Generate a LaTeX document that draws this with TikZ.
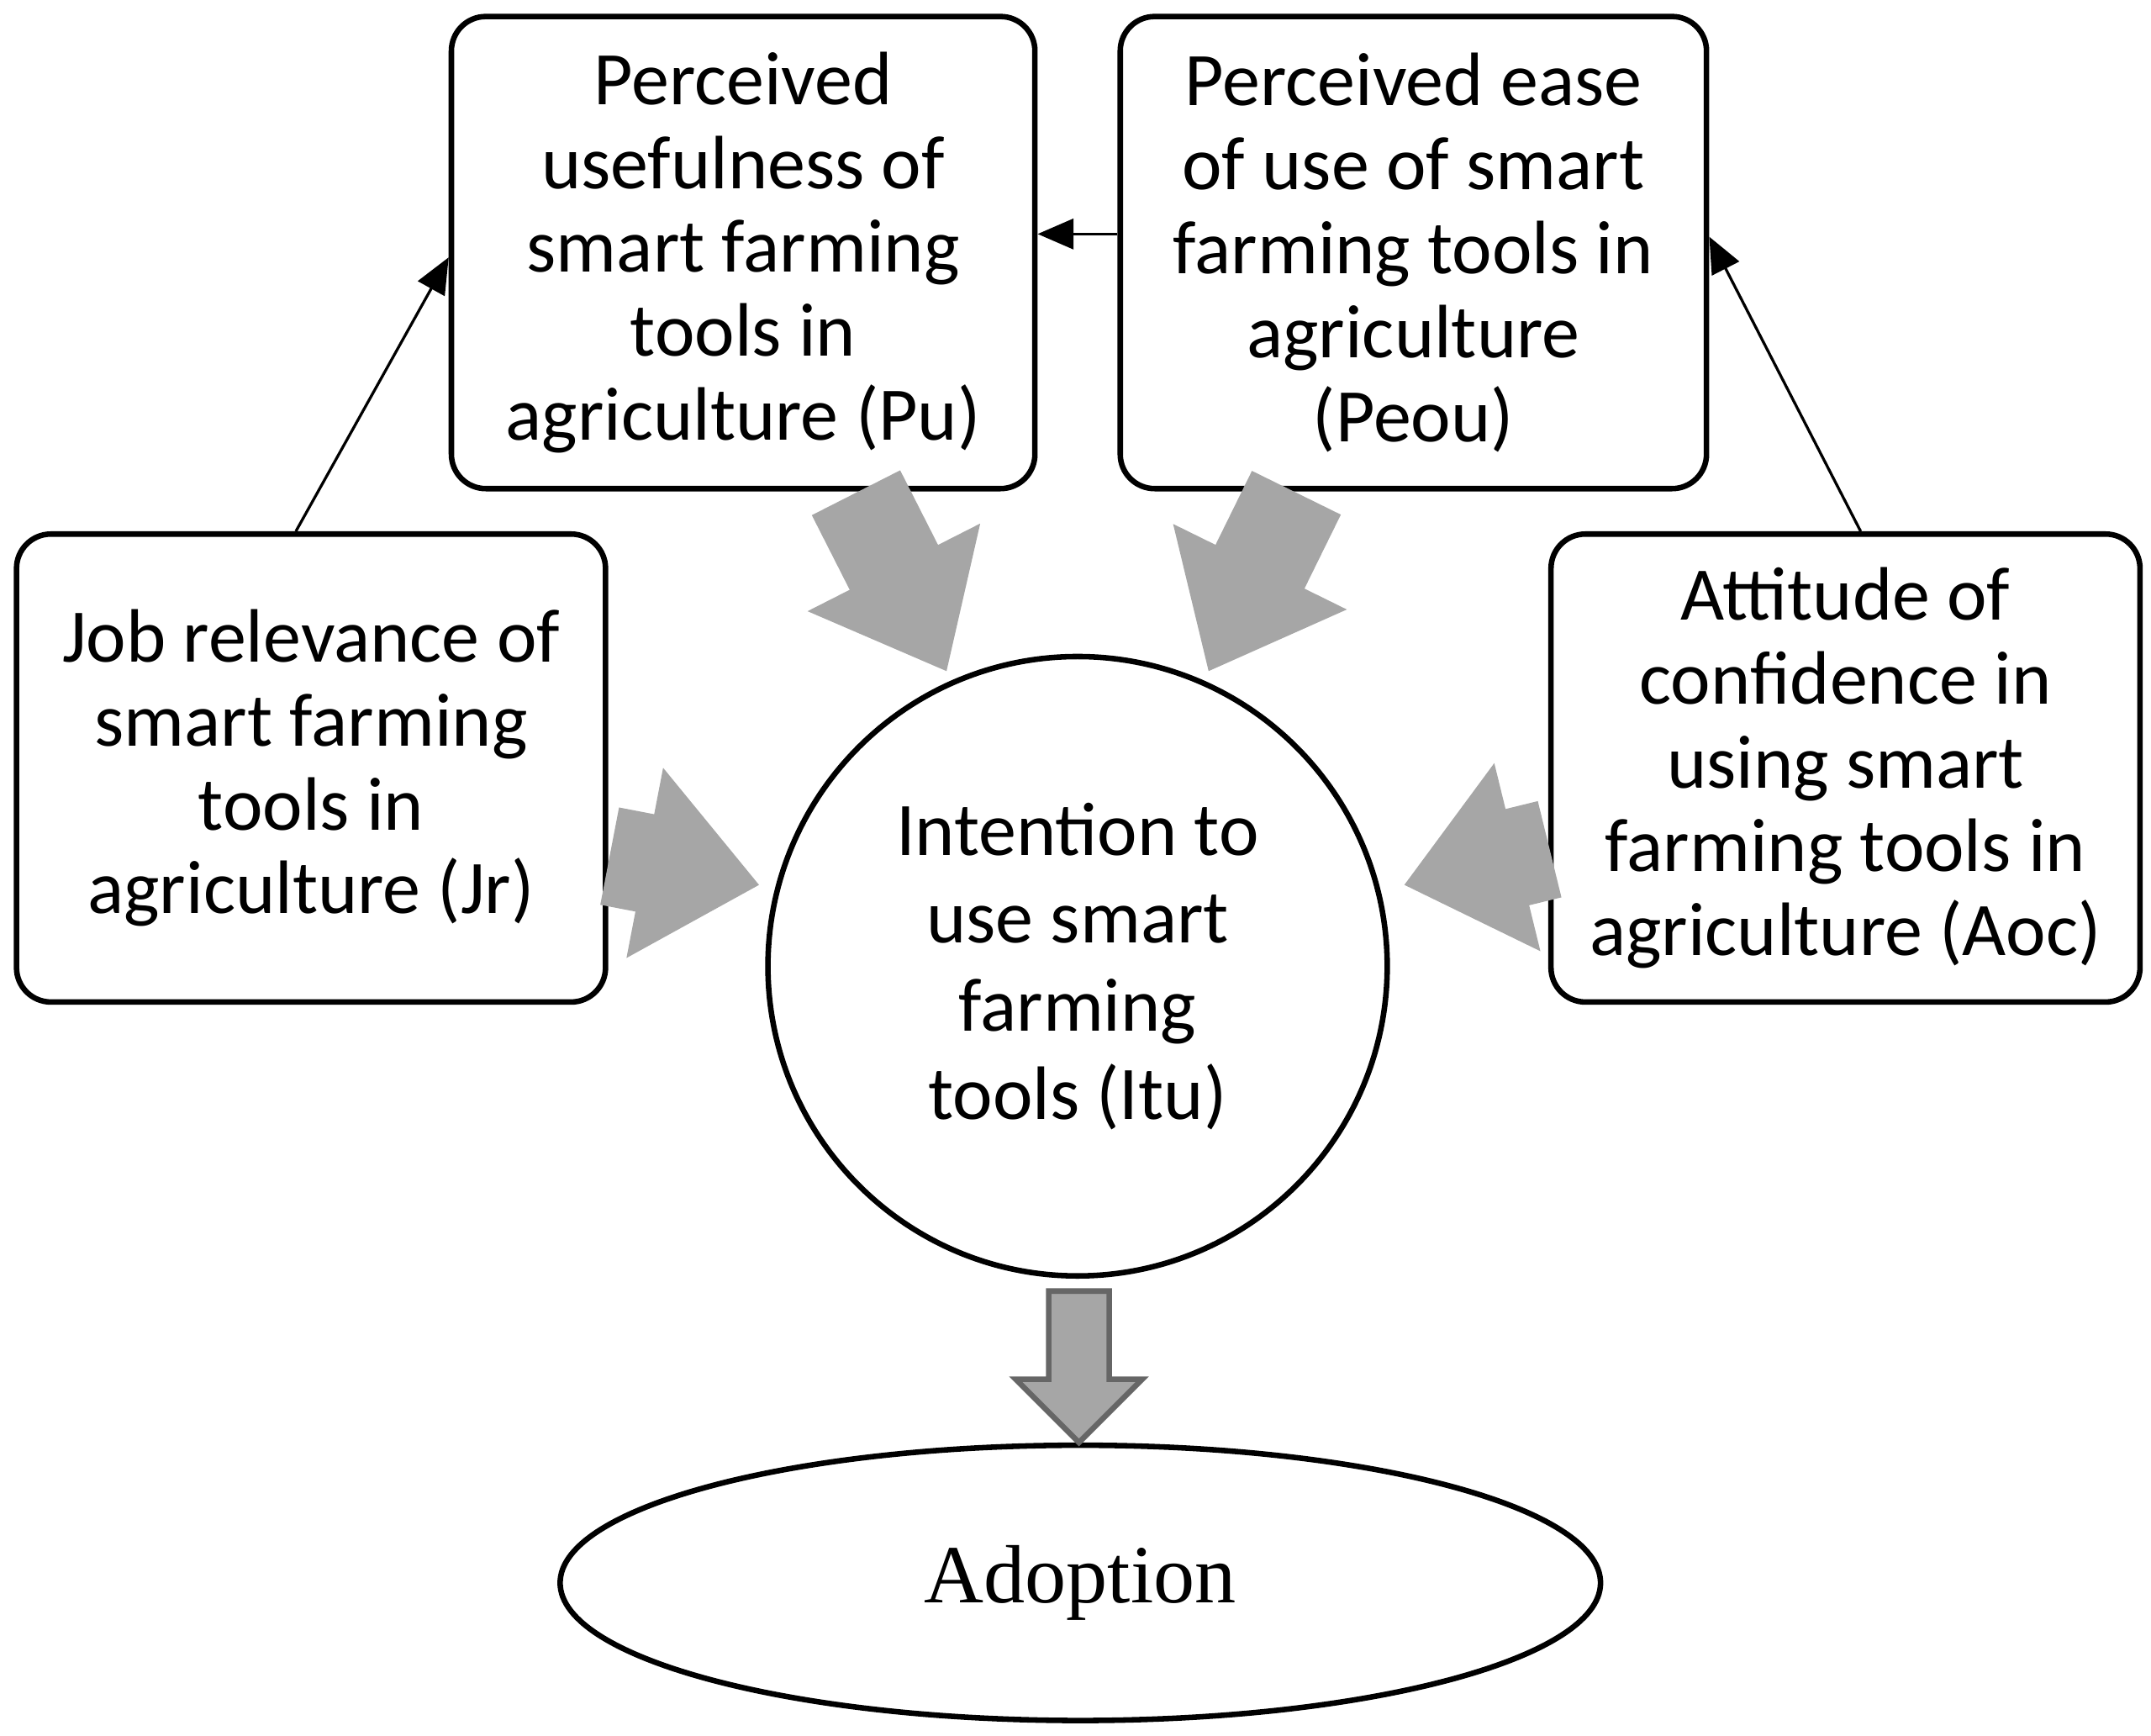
\documentclass[tikz,border=0pt]{standalone}
\usepackage{fontspec}
\setmainfont{Carlito}
\newfontfamily\serifad{Liberation Serif}
\usetikzlibrary{arrows.meta,shapes.geometric}
\definecolor{ag}{HTML}{A6A6A6}
\begin{document}
\begin{tikzpicture}[x=1pt,y=-1pt,
 box/.style={draw,line width=4pt,rounded corners=25pt,align=center,font=\fontsize{55}{61}\selectfont,inner sep=0pt},
 thin/.style={line width=2pt,-{Triangle[width=22pt,length=26pt]}},
 big/.style={line width=72pt,draw=ag,-{Triangle[width=135pt,length=85pt]}}]
\useasboundingbox (0,0) rectangle (1563,1261);
\node[box,minimum width=424pt,minimum height=343pt] (pu) at (540,183.5) {Perceived\\usefulness of\\smart farming\\tools in\\agriculture (Pu)};
\node[box,minimum width=426pt,minimum height=343pt] (peou) at (1027,183.5) {Perceived ease\\of use of smart\\farming tools in\\agriculture\\(Peou)};
\node[box,minimum width=428pt,minimum height=340pt] (jr) at (226,558) {Job relevance of\\smart farming\\tools in\\agriculture (Jr)};
\node[box,minimum width=428pt,minimum height=340pt] (aoc) at (1341,558) {Attitude of\\confidence in\\using smart\\farming tools in\\agriculture (Aoc)};
\node[circle,draw,line width=4pt,minimum size=450pt,align=center,font=\fontsize{55}{64}\selectfont,inner sep=0pt] (itu) at (783,702) {Intention to\\use smart\\farming\\tools (Itu)};
\node[ellipse,draw,line width=4pt,minimum width=756pt,minimum height=200pt,font=\serifad\fontsize{60}{60}\selectfont] (ad) at (785,1150) {Adoption};
% thin arrows
\coordinate (jrt) at (215,386);
\coordinate (put) at (326,187);
\draw[thin] (jrt) -- (put);
\draw[thin] (peou.west |- 0,170) -- (pu.east |- 0,170);
\coordinate (aot) at (1352,386);
\coordinate (pet) at (1242,172);
\draw[thin] (aot) -- (pet);
% big arrows
\coordinate (a1) at (622,358); \coordinate (b1) at (688,488);
\coordinate (a2) at (942,358); \coordinate (b2) at (878,488);
\coordinate (a3) at (443,622); \coordinate (b3) at (552,643);
\coordinate (a4) at (1126,617); \coordinate (b4) at (1020,643);
\draw[big] (a1) -- (b1);
\draw[big] (a2) -- (b2);
\draw[big] (a3) -- (b3);
\draw[big] (a4) -- (b4);
% down arrow
\draw[line width=4pt,draw=gray!80!black,fill=ag,line join=miter]
 (762,938) -- (806,938) -- (806,1002) -- (830,1002) -- (784,1048) -- (738,1002) -- (762,1002) -- cycle;
\end{tikzpicture}
\end{document}
